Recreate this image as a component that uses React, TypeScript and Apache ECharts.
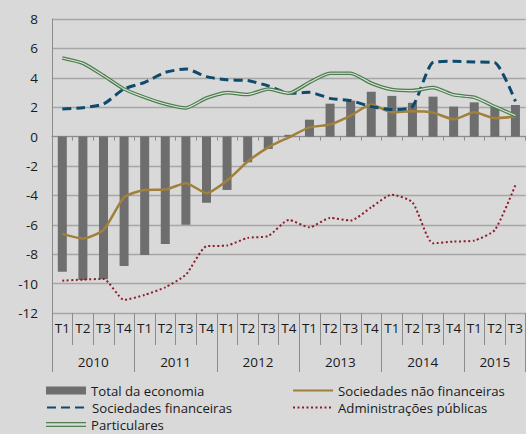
import React, { useEffect, useRef } from "react";
import * as echarts from "echarts";

const quarters = [
  "T1", "T2", "T3", "T4", "T1", "T2", "T3", "T4", "T1", "T2", "T3", "T4",
  "T1", "T2", "T3", "T4", "T1", "T2", "T3", "T4", "T1", "T2", "T3",
];
const years = ["2010", "2011", "2012", "2013", "2014", "2015"];
const yearCenters = [2, 6, 10, 14, 18, 21.5];
const yearBounds = [0, 4, 8, 12, 16, 20, 23];

const totalEconomia = [
  -9.2, -9.75, -9.7, -8.8, -8.05, -7.3, -6.0, -4.5, -3.63, -1.75, -0.84, 0.12,
  1.15, 2.24, 2.45, 3.05, 2.77, 2.3, 2.72, 2.04, 2.33, 2.02, 2.15,
];
const socNaoFin = [
  -6.62, -6.94, -6.35, -4.13, -3.63, -3.6, -3.17, -3.85, -2.99, -1.7, -0.73, -0.05,
  0.63, 0.82, 1.43, 2.18, 1.65, 1.72, 1.63, 1.18, 1.65, 1.25, 1.36,
];
const socFin = [
  1.88, 1.97, 2.22, 3.24, 3.69, 4.37, 4.6, 4.08, 3.86, 3.81, 3.45, 2.95,
  3.01, 2.6, 2.45, 2.04, 1.84, 2.04, 5.05, 5.12, 5.08, 5.03, 2.4,
];
const adminPub = [
  -9.8, -9.73, -9.68, -11.1, -10.77, -10.25, -9.39, -7.46, -7.41, -6.89, -6.76, -5.67,
  -6.17, -5.53, -5.71, -4.81, -3.95, -4.47, -7.26, -7.14, -7.07, -6.35, -3.3,
];
const particulares = [
  5.35, 4.99, 4.15, 3.24, 2.67, 2.22, 1.95, 2.63, 2.99, 2.86, 3.24, 2.95,
  3.69, 4.31, 4.31, 3.63, 3.2, 3.13, 3.33, 2.84, 2.67, 2.04, 1.43,
];

const FONT = "Open Sans";
const TXT = "#1a1a1a";
const GRID = "#a6a6a6";
const FS = 13.5;
const LFS = 13.2;

export default function App() {
  const ref = useRef<HTMLDivElement>(null);
  useEffect(() => {
    if (!ref.current) return;
    const chart = echarts.init(ref.current, undefined, { renderer: "svg" });
    const smooth = 0.2;
    const noSym = { itemStyle: { opacity: 0, borderWidth: 0 } };
    const leg = (left: number, top: number, item: any) => ({
      orient: "horizontal",
      left,
      top,
      itemWidth: 40,
      itemHeight: 8,
      padding: 0,
      textStyle: { fontSize: LFS, color: TXT, fontFamily: FONT, lineHeight: 13 },
      data: [item],
    });
    chart.setOption({
      animation: false,
      backgroundColor: "#d9d9d9",
      textStyle: { fontFamily: FONT, color: TXT },
      grid: { left: 52, right: 0, top: 19, bottom: 121, containLabel: false },
      xAxis: [
        {
          type: "category",
          data: quarters,
          axisLine: { onZero: true, lineStyle: { color: "#8c8c8c", width: 1 } },
          axisTick: { show: true, length: 4, interval: 0, lineStyle: { color: "#8c8c8c" } },
          axisLabel: { show: false },
          splitLine: { show: false },
        },
        {
          type: "category",
          data: quarters,
          position: "bottom",
          axisLine: { onZero: false, show: false },
          axisTick: { show: true, length: 32, interval: 0, lineStyle: { color: "#8c8c8c" } },
          axisLabel: { interval: 0, margin: 8, fontSize: FS, color: TXT, fontFamily: FONT },
        },
        {
          type: "value",
          min: 0,
          max: 23,
          position: "bottom",
          axisLine: { onZero: false, show: false },
          splitLine: { show: false },
          axisTick: {
            show: true,
            length: 59,
            customValues: yearBounds,
            lineStyle: { color: "#8c8c8c" },
          },
          axisLabel: {
            show: true,
            margin: 42,
            fontSize: FS,
            color: TXT,
            fontFamily: FONT,
            customValues: yearCenters,
            formatter: (v: number) => {
              const i = yearCenters.indexOf(v);
              return i >= 0 ? years[i] : "";
            },
          },
        },
      ],
      yAxis: {
        type: "value",
        min: -12,
        max: 8,
        interval: 2,
        axisLine: { show: true, lineStyle: { color: "#8c8c8c" } },
        axisTick: { show: false },
        axisLabel: { margin: 14, fontSize: FS, color: TXT, fontFamily: FONT },
        splitLine: { show: true, lineStyle: { color: GRID, width: 1.3 } },
      },
      legend: [
        leg(46, 384, { name: "Total da economia", icon: "rect" }),
        leg(46, 401, { name: "Sociedades financeiras", ...noSym }),
        leg(46, 418, { name: "Particulares", icon: "path://M0,0H40V1.3H0Z M0,3.7H40V5H0Z" }),
        leg(292, 384, { name: "Sociedades não financeiras", ...noSym }),
        leg(292, 401, { name: "Administrações públicas", ...noSym }),
      ],
      series: [
        {
          name: "Total da economia",
          type: "bar",
          xAxisIndex: 0,
          data: totalEconomia,
          barWidth: 9,
          itemStyle: { color: "#6e6e6e" },
        },
        {
          name: "Sociedades não financeiras",
          type: "line",
          data: socNaoFin,
          symbol: "none",
          smooth,
          color: "#a0803a",
          lineStyle: { color: "#a0803a", width: 2.5 },
        },
        {
          name: "Sociedades financeiras",
          type: "line",
          data: socFin,
          symbol: "none",
          smooth,
          color: "#0d4a6c",
          lineStyle: { color: "#0d4a6c", width: 3, type: [9, 5] },
        },
        {
          name: "Administrações públicas",
          type: "line",
          data: adminPub,
          symbol: "none",
          smooth,
          color: "#8b1e2a",
          lineStyle: { color: "#8b1e2a", width: 2, type: [2, 2.5] },
        },
        {
          name: "Particulares",
          type: "line",
          data: particulares,
          symbol: "none",
          smooth,
          color: "#4f7d52",
          lineStyle: { color: "#4f7d52", width: 3.6 },
        },
        {
          name: "particulares-inner",
          type: "line",
          data: particulares,
          symbol: "none",
          smooth,
          silent: true,
          color: "#dde8da",
          lineStyle: { color: "#dde8da", width: 1.1 },
        },
      ],
    });
    return () => chart.dispose();
  }, []);
  return (
    <div
      ref={ref}
      style={{ position: "fixed", left: 0, top: 0, width: 526, height: 434 }}
    />
  );
}
